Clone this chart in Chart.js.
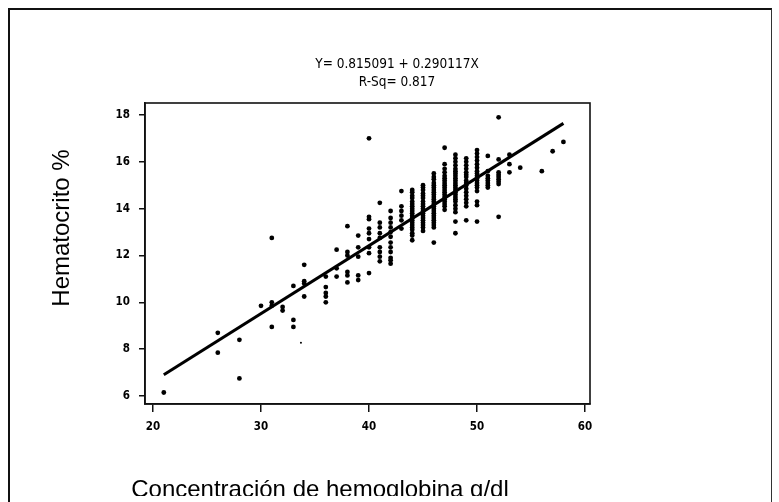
<!DOCTYPE html>
<html lang="es">
<head>
<meta charset="utf-8">
<title>Hematocrito vs hemoglobina</title>
<script src="https://cdn.jsdelivr.net/npm/chart.js@4.4.1/dist/chart.umd.min.js"></script>
<style>
    html, body { margin: 0; padding: 0; background: #fff; }
    #page { position: relative; width: 779px; height: 502px; overflow: hidden; font-family: "Liberation Sans", Arial, sans-serif; }
    #marco { position: absolute; left: 8px; top: 8px; width: 761px; height: 520px; border-left: 2px solid #111; border-top: 2px solid #111; border-right: 1px solid #333; }
    #chart { position: absolute; left: 0; top: 0; }
    .eq { position: absolute; left: 297px; width: 200px; text-align: center; font: 13.5px "Liberation Sans Narrow", "DejaVu Sans Condensed", sans-serif; line-height: 18px; color: #000; }
    #y-title { position: absolute; left: -89px; top: 215.5px; width: 300px; height: 24px; line-height: 24px; font-size: 24px; text-align: center; transform: rotate(-90deg); color: #000; }
    #x-title { position: absolute; left: 0; top: 477px; width: 640px; height: 19px; overflow: hidden; }
    #x-title span { display: block; font-size: 24px; line-height: 24px; text-align: center; color: #000; }
</style>
</head>
<body>
<div id="page">
    <div id="marco"></div>
    <canvas id="chart" width="779" height="502"></canvas>
    <div class="eq" style="top:54px">Y= 0.815091 + 0.290117X</div>
    <div class="eq" style="top:72px">R-Sq= 0.817</div>
    <div id="y-title">Hematocrito %</div>
    <div id="x-title"><span>Concentración de hemoglobina g/dl</span></div>
</div>
<script>
// hemoglobina (eje x) y hematocrito (eje y), leídos por columnas
const hemoglobina = [
    21,
    26, 26,
    28, 28,
    30,
    31, 31, 31, 31,
    32, 32,
    33, 33, 33,
    34, 34, 34, 34,
    36, 36, 36, 36, 36,
    37, 37, 37,
    38, 38, 38, 38, 38, 38,
    39, 39, 39, 39, 39,
    40, 40, 40, 40, 40, 40, 40, 40, 40,
    41, 41, 41, 41, 41, 41, 41, 41, 41,
    42, 42, 42, 42, 42, 42, 42, 42, 42, 42, 42, 42,
    43, 43, 43, 43, 43, 43,
    44, 44, 44, 44, 44, 44, 44, 44, 44, 44, 44, 44, 44, 44, 44, 44, 44, 44, 44, 44,
    45, 45, 45, 45, 45, 45, 45, 45, 45, 45, 45, 45, 45, 45, 45, 45, 45, 45, 45,
    46, 46, 46, 46, 46, 46, 46, 46, 46, 46, 46, 46, 46, 46, 46, 46, 46, 46, 46, 46, 46, 46, 46, 46,
    47, 47, 47, 47, 47, 47, 47, 47, 47, 47, 47, 47, 47, 47, 47, 47, 47, 47, 47,
    48, 48, 48, 48, 48, 48, 48, 48, 48, 48, 48, 48, 48, 48, 48, 48, 48, 48, 48, 48, 48, 48, 48, 48,
    49, 49, 49, 49, 49, 49, 49, 49, 49, 49, 49, 49, 49, 49, 49, 49, 49,
    50, 50, 50, 50, 50, 50, 50, 50, 50, 50, 50, 50, 50, 50, 50, 50, 50, 50,
    51, 51, 51, 51, 51, 51, 51, 51,
    52, 52, 52, 52, 52, 52, 52, 52, 52,
    53, 53, 53,
    54,
    56,
    57,
    58
];
const hematocrito = [
    6.15,
    8.7, 7.85,
    8.4, 6.75,
    9.85,
    12.75, 10.0, 9.85, 8.95,
    9.8, 9.65,
    10.7, 9.25, 8.95,
    11.6, 10.9, 10.8, 10.25,
    11.1, 10.65, 10.4, 10.25, 10.0,
    12.25, 11.45, 11.1,
    13.25, 12.15, 12.0, 11.3, 11.15, 10.85,
    12.85, 12.35, 11.95, 11.15, 10.95,
    17.0, 13.65, 13.55, 13.15, 12.95, 12.7, 12.35, 12.1, 11.25,
    14.25, 13.4, 13.2, 12.95, 12.75, 12.35, 12.15, 11.95, 11.75,
    13.9, 13.6, 13.4, 13.2, 13.0, 12.8, 12.55, 12.35, 12.15, 11.9, 11.8, 11.65,
    14.75, 14.1, 13.9, 13.7, 13.5, 13.15,
    14.8, 14.7, 14.55, 14.45, 14.3, 14.2, 14.1, 14.0, 13.9, 13.8, 13.7, 13.6, 13.5, 13.4, 13.3, 13.2, 13.1, 12.95, 12.85, 12.65,
    15.0, 14.9, 14.8, 14.65, 14.55, 14.45, 14.3, 14.2, 14.1, 14.0, 13.9, 13.8, 13.7, 13.6, 13.5, 13.4, 13.3, 13.2, 13.05,
    15.5, 15.35, 15.25, 15.1, 15.0, 14.9, 14.8, 14.7, 14.6, 14.5, 14.4, 14.3, 14.2, 14.1, 14.0, 13.9, 13.8, 13.7, 13.6, 13.5, 13.4, 13.3, 13.2, 12.55,
    16.6, 15.9, 15.7, 15.55, 15.4, 15.3, 15.2, 15.1, 15.0, 14.9, 14.8, 14.7, 14.6, 14.5, 14.4, 14.3, 14.2, 14.1, 13.95,
    16.3, 16.15, 16.0, 15.85, 15.7, 15.6, 15.5, 15.4, 15.3, 15.2, 15.1, 15.0, 14.9, 14.8, 14.7, 14.6, 14.5, 14.4, 14.3, 14.15, 14.0, 13.85, 13.45, 12.95,
    16.15, 16.0, 15.85, 15.7, 15.55, 15.45, 15.35, 15.2, 15.1, 15.0, 14.85, 14.7, 14.55, 14.4, 14.25, 14.1, 13.5,
    16.5, 16.35, 16.2, 16.05, 15.9, 15.75, 15.6, 15.5, 15.4, 15.3, 15.2, 15.1, 15.0, 14.9, 14.75, 14.3, 14.15, 13.45,
    16.25, 15.6, 15.4, 15.3, 15.2, 15.1, 15.0, 14.9,
    17.9, 16.1, 15.55, 15.45, 15.35, 15.25, 15.15, 15.05, 13.65,
    16.3, 15.9, 15.55,
    15.75,
    15.6,
    16.45,
    16.85
];
// punto pequeño aislado cerca de x = 33.7
const puntoSueltoX = [33.7];
const puntoSueltoY = [8.27];

// recta ajustada Y = 0.815091 + 0.290117X, extremos
const rectaX = [21, 58];
const rectaY = [6.91, 17.64];

const xTicks = [20, 30, 40, 50, 60];
const yTicks = [6, 8, 10, 12, 14, 16, 18];

const frame = {
    id: "frame",
    afterDraw(chart) {
        const { ctx, chartArea: a } = chart;
        ctx.save();
        ctx.strokeStyle = "#111";
        ctx.lineWidth = 1.6;
        ctx.strokeRect(a.left, a.top, a.right - a.left, a.bottom - a.top);
        ctx.restore();
    }
};

function toPoints(xs, ys) {
    return xs.map((x, i) => ({ x, y: ys[i] }));
}

document.addEventListener("DOMContentLoaded", () => {
    const tickFont = { family: "'Liberation Sans Narrow', 'DejaVu Sans Condensed', sans-serif", size: 11.5, weight: "bold" };
    new Chart(document.getElementById("chart"), {
        type: "scatter",
        data: {
            datasets: [
                { data: toPoints(hemoglobina, hematocrito), backgroundColor: "#000", borderWidth: 0, pointRadius: 2.4 },
                { data: toPoints(puntoSueltoX, puntoSueltoY), backgroundColor: "#000", borderWidth: 0, pointRadius: 1 },
                { type: "line", data: toPoints(rectaX, rectaY), borderColor: "#000", borderWidth: 3, pointRadius: 0, fill: false }
            ]
        },
        options: {
            responsive: false,
            animation: false,
            devicePixelRatio: 1,
            layout: { padding: { top: 103, right: 189, bottom: 0, left: 0 } },
            plugins: { legend: { display: false }, tooltip: { enabled: false } },
            scales: {
                x: {
                    type: "linear",
                    min: 19.26,
                    max: 60.46,
                    afterFit: s => { s.height = 98; },
                    afterBuildTicks: s => { s.ticks = xTicks.map(v => ({ value: v })); },
                    grid: { drawOnChartArea: false, tickLength: 8, color: "#111", lineWidth: 1.5 },
                    border: { color: "#111", width: 1.6 },
                    ticks: { font: tickFont, color: "#000", padding: 8, maxRotation: 0 }
                },
                y: {
                    min: 5.66,
                    max: 18.51,
                    afterFit: s => { s.width = 145; },
                    afterBuildTicks: s => { s.ticks = yTicks.map(v => ({ value: v })); },
                    grid: { drawOnChartArea: false, tickLength: 6, color: "#111", lineWidth: 1.5 },
                    border: { color: "#111", width: 1.6 },
                    ticks: { font: tickFont, color: "#000", padding: 9 }
                }
            }
        },
        plugins: [frame]
    });
});
</script>
</body>
</html>
